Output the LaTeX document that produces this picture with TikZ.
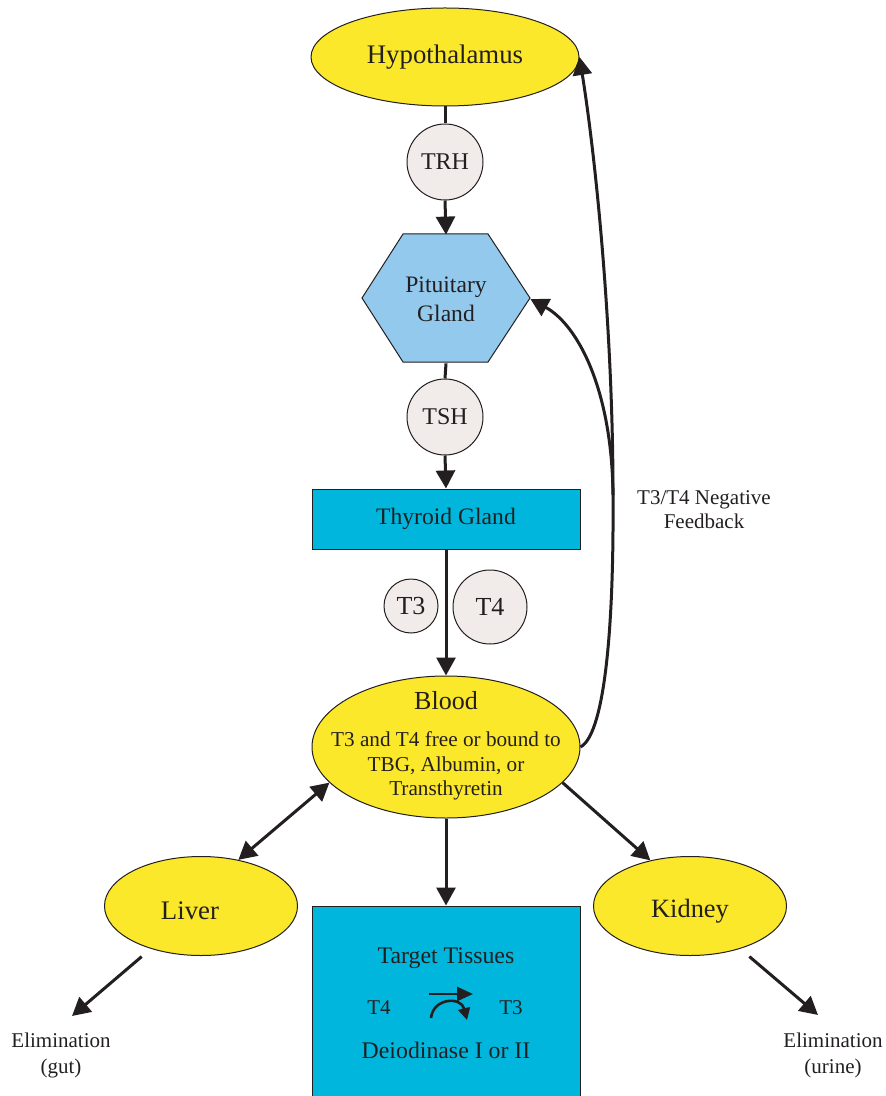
\documentclass[tikz,border=0pt]{standalone}
\usepackage{fontspec}
\setmainfont{Liberation Serif}
\usetikzlibrary{shapes.geometric,arrows.meta}
\definecolor{ink}{HTML}{231F20}
\definecolor{hyyellow}{HTML}{FCE82A}
\definecolor{molgray}{HTML}{F1EBE9}
\definecolor{pitblue}{HTML}{93C9EC}
\definecolor{glandcyan}{HTML}{00B6DC}
\tikzset{
  organ/.style={ellipse, draw=ink, line width=0.5pt, fill=hyyellow, inner sep=0pt, text=ink},
  molecule/.style={circle, draw=ink, line width=0.5pt, fill=molgray, inner sep=0pt, text=ink, font=\fontsize{12}{14}\selectfont},
  glandbox/.style={rectangle, draw=ink, line width=0.5pt, fill=glandcyan, inner sep=0pt, text=ink},
  lbl/.style={text=ink, inner sep=0pt, align=center},
  link/.style={draw=ink, line width=1.5pt},
  arr/.style={draw=ink, line width=1.5pt, -{Triangle[length=9pt,width=9.5pt]}},
  darr/.style={draw=ink, line width=1.5pt, {Triangle[length=9pt,width=9.5pt]}-{Triangle[length=9pt,width=9.5pt]}},
}
\begin{document}
\begin{tikzpicture}[x=0.5pt,y=-0.5pt]
\useasboundingbox (0,0) rectangle (886,1096);
% nodes
\node[organ, minimum width=134pt, minimum height=49pt, font=\fontsize{13.4}{16}\selectfont] (hyp) at (445,57) {Hypothalamus};
\node[molecule, minimum size=38pt] (trh) at (445,162) {TRH};
\fill[pitblue, draw=ink, line width=0.5pt] (362,298) -- (403,234) -- (488,234) -- (530,298) -- (488,362) -- (403,362) -- cycle;
\node[lbl, minimum width=84pt, minimum height=64pt, font=\fontsize{11.8}{14.5}\selectfont] (pit) at (446,299) {Pituitary\\Gland};
\node[molecule, minimum size=38pt] (tsh) at (445,417) {TSH};
\node[glandbox, minimum width=134pt, minimum height=30pt, font=\fontsize{11.8}{14}\selectfont] (thy) at (446,519) {Thyroid Gland};
\node[molecule, minimum size=27pt, font=\fontsize{13}{15}\selectfont] (t3) at (411,606) {T3};
\node[molecule, minimum size=37pt, font=\fontsize{13}{15}\selectfont] (t4) at (490,607) {T4};
\node[organ, minimum width=134pt, minimum height=71pt] (blood) at (446,747) {};
\node[lbl, font=\fontsize{13}{15}\selectfont] (bloodtitle) at (446,701) {Blood};
\node[lbl, font=\fontsize{10.6}{12.3}\selectfont] (bloodtxt) at (446,766) {T3 and T4 free or bound to\\TBG, Albumin, or\\Transthyretin};
\node[organ, minimum width=96.5pt, minimum height=49.5pt] (liver) at (201,906) {};
\node[lbl, font=\fontsize{13.4}{15}\selectfont] (livertxt) at (190,911) {Liver};
\node[organ, minimum width=96.5pt, minimum height=49.5pt] (kidney) at (690,906) {};
\node[lbl, font=\fontsize{13.2}{15}\selectfont] (kidneytxt) at (690,911) {Kidney};
\node[glandbox, minimum width=134pt, minimum height=97pt] (tt) at (446,1003) {};
\node[lbl, font=\fontsize{11.9}{14}\selectfont] (tttitle) at (446,958) {Target Tissues};
\node[lbl, font=\fontsize{10.5}{12}\selectfont] (ttfour) at (379,1008) {T4};
\node[lbl, font=\fontsize{10.5}{12}\selectfont] (ttthree) at (511,1008) {T3};
\node[lbl, font=\fontsize{11.9}{14}\selectfont] (deio) at (446,1050) {Deiodinase I or II};
\node[lbl, font=\fontsize{10.5}{13}\selectfont] (elimgut) at (61,1055) {Elimination\\(gut)};
\node[lbl, font=\fontsize{10.5}{13}\selectfont] (elimurine) at (833,1055) {Elimination\\(urine)};
\node[lbl, font=\fontsize{10.5}{12}\selectfont] (fblabel) at (704,510) {T3/T4 Negative\\Feedback};
\coordinate (fb) at (613,495);
\coordinate (gutpt) at (72,1016);
\coordinate (urinept) at (818,1015);
% connectors
\draw[link] (hyp.south) -- (trh.north);
\draw[arr] (trh.south) -- (pit.north);
\draw[link] (pit.south) -- (tsh.north);
\draw[arr] (tsh.south) -- (thy.north);
\draw[arr] (thy.south) -- (blood.north);
\draw[arr] (blood.south) -- (tt.north);
\draw[darr] (liver.51) -- (blood.197);
\draw[arr] (blood.-17) -- (kidney.131);
\draw[arr, shorten <=6pt] (liver) -- (gutpt);
\draw[arr, shorten <=6pt] (kidney) -- (urinept);
\draw[arr] (blood.east) .. controls (603,735) and (614,640) .. (fb) .. controls (613,330) and (596,160) .. (hyp.east);
\draw[arr] (fb) .. controls (612,390) and (578,325) .. (pit.east);
% deiodinase symbol
\draw[draw=ink, line width=1.3pt, -{Triangle[length=8pt,width=7pt]}] (429,994) -- (473,994);
\draw[draw=ink, line width=1.3pt, -{Triangle[length=6pt,width=6pt]}] (431,1018) .. controls (433,998) and (461,996) .. (467,1020);
\end{tikzpicture}
\end{document}
